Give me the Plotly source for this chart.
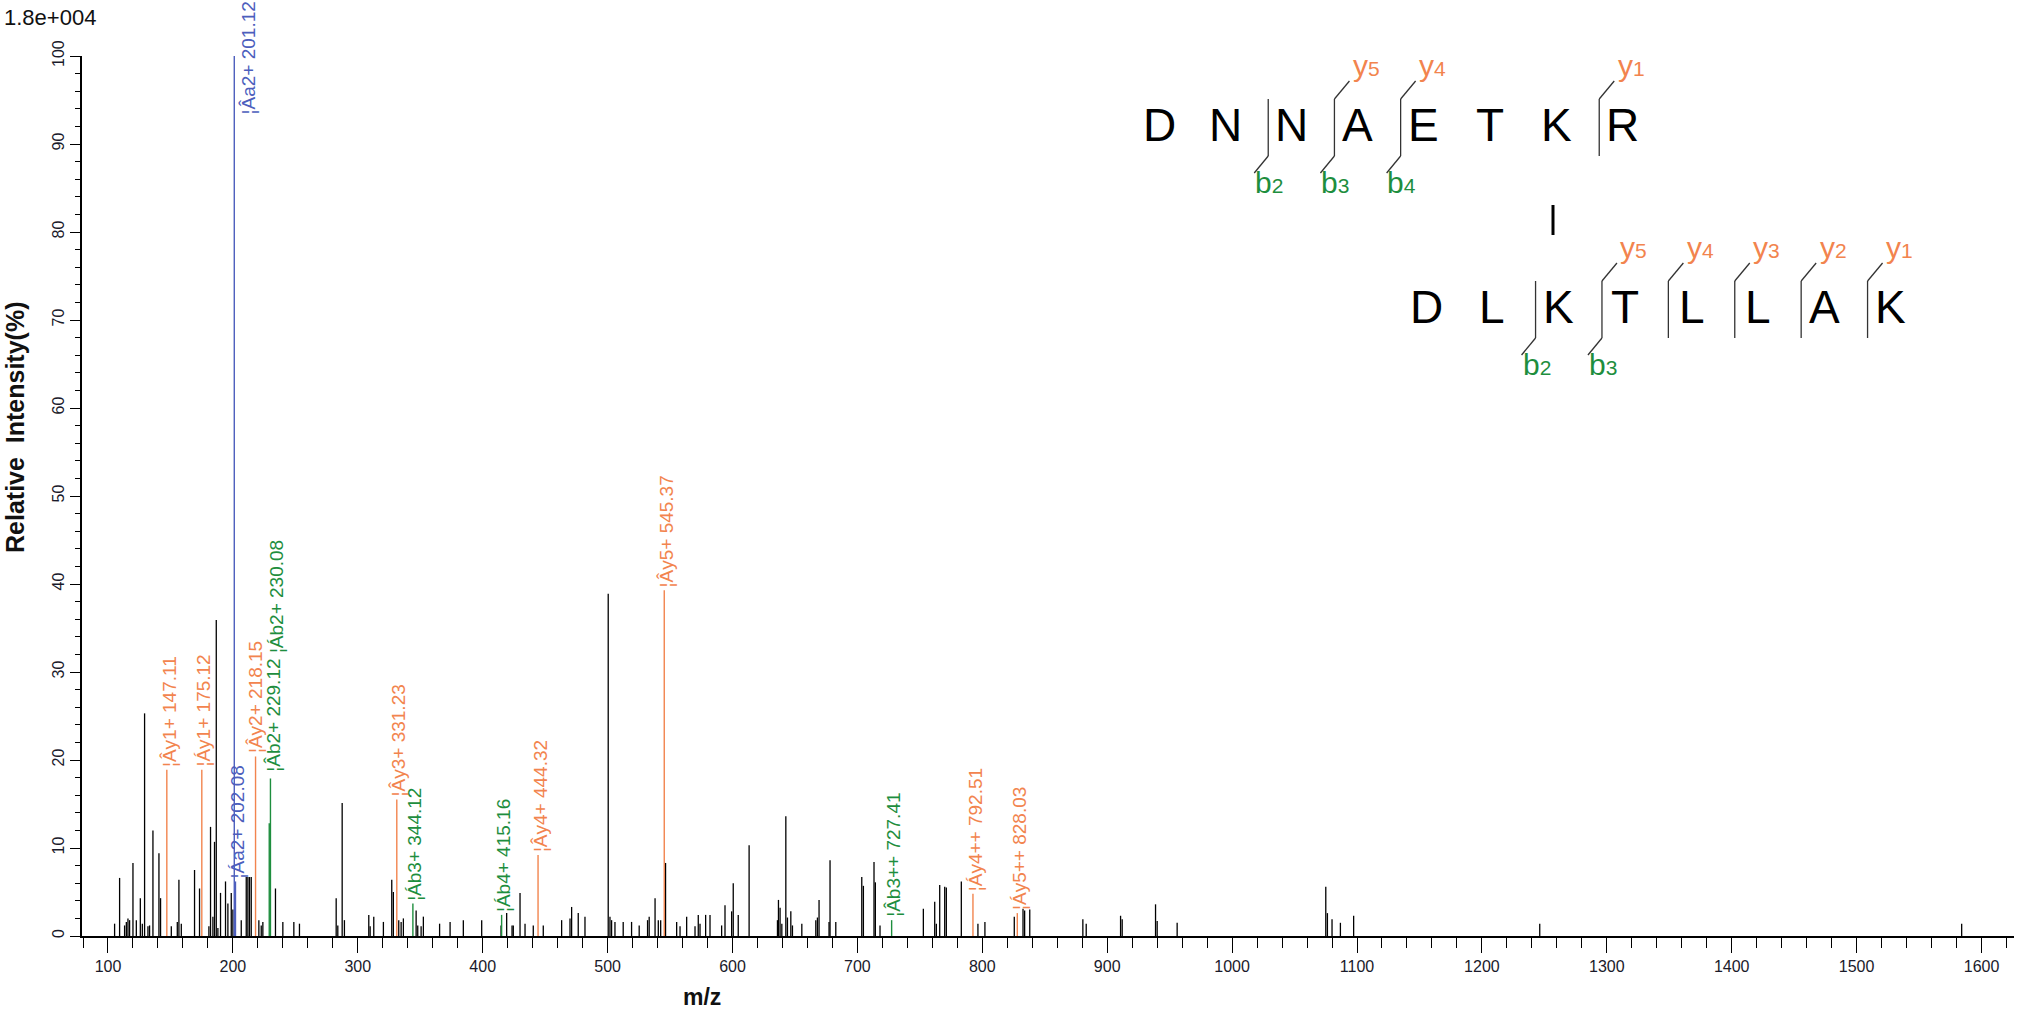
import plotly.graph_objects as go

# ---------------- spectrum data ----------------
# unassigned peaks (m/z, relative intensity %)
other_mz = [105.3, 109.3, 113.3, 114.7, 116.0, 117.3, 120.0, 122.7, 125.9, 127.5, 129.3, 132.0,
            133.3, 136.0, 140.8, 142.1, 150.7, 155.5, 156.8, 158.7, 169.3, 173.3, 180.8, 182.1,
            184.0, 185.3, 186.7, 188.0, 190.1, 194.1, 196.0, 198.7, 200.0, 206.7, 210.7, 212.0,
            213.3, 214.7, 220.8, 222.7, 224.0, 234.1, 240.0, 248.8, 253.3, 282.7, 284.0, 287.5,
            289.3, 308.8, 309.9, 312.8, 320.5, 327.2, 328.5, 332.8, 334.7, 336.5, 346.7, 348.0,
            350.7, 352.5, 365.5, 373.9, 384.5, 399.2, 414.7, 419.2, 423.5, 424.5, 429.9, 433.9,
            440.5, 448.5, 463.2, 469.9, 471.2, 476.5, 481.9, 500.5, 501.9, 503.2, 505.9, 512.5,
            519.2, 525.3, 532.0, 533.3, 538.0, 540.6, 542.5, 546.4, 555.3, 558.0, 563.3, 570.0,
            572.6, 574.0, 578.5, 582.0, 591.3, 594.0, 599.3, 600.6, 604.6, 613.3, 636.0, 636.8,
            638.1, 639.5, 642.7, 644.0, 646.7, 648.0, 655.5, 666.7, 668.0, 669.3, 677.3, 678.1,
            682.7, 703.5, 704.8, 713.3, 714.4, 718.1, 752.8, 761.9, 763.2, 765.9, 769.9, 771.2,
            783.2, 796.5, 802.1, 825.6, 832.6, 833.9, 838.0, 880.5, 883.2, 910.7, 912.0, 938.7,
            940.0, 956.0, 1075.0, 1076.3, 1080.0, 1086.7, 1097.3, 1246.3, 1584.1]
other_int = [1.4, 6.6, 1.2, 1.6, 2.0, 1.8, 8.3, 1.8, 4.3, 1.4, 25.3, 1.1,
             1.2, 12.0, 9.4, 4.3, 1.1, 1.6, 6.4, 1.4, 7.5, 5.4, 1.1, 12.4,
             2.2, 10.7, 35.9, 0.9, 4.9, 6.2, 3.7, 4.9, 3.0, 1.8, 6.7, 6.7,
             6.7, 6.7, 1.8, 1.2, 1.6, 5.4, 1.6, 1.6, 1.4, 4.3, 1.2, 15.1,
             1.8, 2.4, 1.1, 2.2, 1.6, 6.4, 5.0, 1.8, 1.6, 2.0, 2.9, 1.2,
             1.1, 2.2, 1.4, 1.6, 1.8, 1.8, 1.2, 2.6, 1.2, 1.2, 4.9, 1.4,
             1.2, 1.2, 1.8, 2.0, 3.3, 2.6, 2.2, 38.9, 2.2, 1.8, 1.6, 1.6,
             1.6, 1.2, 1.8, 2.2, 4.3, 1.8, 1.8, 8.3, 1.6, 1.1, 2.2, 1.1,
             2.4, 1.4, 2.4, 2.4, 1.2, 3.5, 2.8, 6.0, 2.4, 10.3, 1.8, 4.1,
             3.2, 1.4, 13.6, 2.1, 2.8, 1.2, 1.4, 1.8, 2.1, 4.1, 1.6, 8.6,
             1.6, 6.7, 5.7, 8.4, 6.1, 1.2, 3.1, 3.9, 1.4, 5.8, 5.6, 5.5,
             6.2, 1.4, 1.6, 2.2, 3.1, 2.9, 3.0, 1.9, 1.4, 2.3, 1.9, 3.6,
             1.7, 1.5, 5.6, 2.6, 1.9, 1.5, 2.3, 1.4, 1.4]

# assigned fragment ions
ion_mz = [147.11, 175.12, 201.12, 202.08, 218.15, 229.12, 230.08, 331.23,
          344.12, 415.16, 444.32, 545.37, 727.41, 792.51, 828.03]
ion_int = [18.9, 18.9, 100.0, 6.2, 20.4, 12.8, 17.9, 15.5,
           3.7, 2.4, 9.2, 39.3, 1.8, 4.8, 2.6]
ion_name = ["¦Ây1+", "¦Áy1+", "¦Âa2+", "¦Áa2+", "¦Ây2+", "¦Âb2+", "¦Áb2+", "¦Ây3+",
            "¦Áb3+", "¦Áb4+", "¦Ây4+", "¦Ây5+", "¦Âb3++", "¦Áy4++", "¦Áy5++"]
ion_series = ["y", "y", "a", "a", "y", "b", "b", "y",
              "b", "b", "y", "y", "b", "y", "y"]

# label start heights where labels are stacked above neighbours
label_base = {229.12: 18.3, 230.08: 31.8, 201.12: 93.0}
label_dx = {201.12: 14, 218.15: 0, 229.12: 4, 230.08: 6}

y_ticks = [0, 10, 20, 30, 40, 50, 60, 70, 80, 90, 100]
x_ticks = list(range(100, 1700, 100))

# cross-linked peptides
alpha_seq = "DNNAETKR"
alpha_b = {2: "2", 3: "3", 4: "4"}          # cleavage site -> b index
alpha_y = {3: "5", 4: "4", 7: "1"}          # cleavage site -> y index
beta_seq = "DLKTLLAK"
beta_b = {2: "2", 3: "3"}
beta_y = {3: "5", 4: "4", 5: "3", 6: "2", 7: "1"}

ORANGE = "#F2844E"
GREEN = "#1E8E3E"
BLUE = "#4C5EBD"
BLACK = "#000000"
series_color = {"y": ORANGE, "b": GREEN, "a": BLUE}
FONT = "Liberation Sans, Arial"

W, H = 2017, 1013
L, R, T, B = 82, 3, 56, 77
PW, PH = W - L - R, H - T - B


def px(xp):
    return (xp - L) / PW


def py(yp):
    return (H - B - yp) / PH


def sticks(xs, ys):
    sx, sy = [], []
    for x, y in zip(xs, ys):
        sx += [x, x, None]
        sy += [0, y, None]
    return sx, sy


fig = go.Figure()

ox, oy = sticks(other_mz, other_int)
fig.add_trace(go.Scatter(x=ox, y=oy, mode="lines", line=dict(color=BLACK, width=1.3),
                         hoverinfo="skip", showlegend=False))

for s in ["y", "b", "a"]:
    xs = [m for m, t in zip(ion_mz, ion_series) if t == s]
    ys = [v for v, t in zip(ion_int, ion_series) if t == s]
    sx, sy = sticks(xs, ys)
    fig.add_trace(go.Scatter(x=sx, y=sy, mode="lines", line=dict(color=series_color[s], width=1.4),
                             hoverinfo="skip", showlegend=False))

annotations = []
for m, v, name, s in zip(ion_mz, ion_int, ion_name, ion_series):
    annotations.append(dict(
        x=m, y=label_base.get(m, v), xref="x", yref="y",
        text=f"{name} {m:.2f}", textangle=-90, showarrow=False,
        xanchor="center", yanchor="bottom", xshift=label_dx.get(m, 2), yshift=1,
        font=dict(family=FONT, size=19, color=series_color[s]),
    ))

# scale label and axis titles
annotations.append(dict(x=px(2), y=py(18), xref="paper", yref="paper", text="1.8e+004",
                        showarrow=False, xanchor="left", yanchor="middle",
                        font=dict(family=FONT, size=22, color="#111")))
annotations.append(dict(x=px(15), y=py(428), xref="paper", yref="paper",
                        text="<b>Relative  Intensity(%)</b>", textangle=-90, showarrow=False,
                        xanchor="center", yanchor="middle",
                        font=dict(family=FONT, size=25, color="#111")))
annotations.append(dict(x=px(702), y=py(997), xref="paper", yref="paper", text="<b>m/z</b>",
                        showarrow=False, xanchor="center", yanchor="middle",
                        font=dict(family=FONT, size=23, color="#111")))

shapes = []


def draw_peptide(seq, b_sites, y_sites, x0, step, cy):
    for i, aa in enumerate(seq):
        annotations.append(dict(x=px(x0 + i * step), y=py(cy), xref="paper", yref="paper",
                                text=aa, showarrow=False, xanchor="center", yanchor="middle",
                                font=dict(family=FONT, size=46, color=BLACK)))
    for site in sorted(set(b_sites) | set(y_sites)):
        lx = x0 + site * step - 0.35 * step
        line = dict(type="line", xref="paper", yref="paper", line=dict(color="#333", width=1.3))
        shapes.append({**line, "x0": px(lx), "x1": px(lx), "y0": py(cy - 26), "y1": py(cy + 31)})
        if site in y_sites:
            shapes.append({**line, "x0": px(lx), "x1": px(lx + 15), "y0": py(cy - 26), "y1": py(cy - 44)})
            annotations.append(dict(
                x=px(lx + 32), y=py(cy - 59), xref="paper", yref="paper",
                text=f"y<span style='font-size:21px'>{y_sites[site]}</span>",
                showarrow=False, xanchor="center", yanchor="middle",
                font=dict(family=FONT, size=30, color=ORANGE)))
        if site in b_sites:
            shapes.append({**line, "x0": px(lx), "x1": px(lx - 14), "y0": py(cy + 31), "y1": py(cy + 48)})
            annotations.append(dict(
                x=px(lx + 1), y=py(cy + 57), xref="paper", yref="paper",
                text=f"b<span style='font-size:21px'>{b_sites[site]}</span>",
                showarrow=False, xanchor="center", yanchor="middle",
                font=dict(family=FONT, size=30, color=GREEN)))


draw_peptide(alpha_seq, alpha_b, alpha_y, 1159, 66.2, 125)
draw_peptide(beta_seq, beta_b, beta_y, 1426, 66.4, 307)

# cross-link between the two lysines
shapes.append(dict(type="line", xref="paper", yref="paper", x0=px(1553), x1=px(1553),
                   y0=py(205), y1=py(235), line=dict(color=BLACK, width=3)))

fig.update_layout(
    width=W, height=H, margin=dict(l=L, r=R, t=T, b=B),
    paper_bgcolor="white", plot_bgcolor="white",
    annotations=annotations, shapes=shapes,
    xaxis=dict(range=[79.2, 1626], tickmode="array", tickvals=x_ticks,
               ticktext=[str(v) for v in x_ticks],
               ticks="outside", ticklen=15, tickwidth=1.3, tickcolor=BLACK,
               minor=dict(dtick=20, tick0=0, ticks="outside", ticklen=10, tickwidth=1.3, tickcolor=BLACK),
               showline=True, linecolor=BLACK, linewidth=1.5, showgrid=False, zeroline=False,
               tickfont=dict(family=FONT, size=16, color="#1a1a2a")),
    yaxis=dict(range=[0, 100], tickmode="array", tickvals=y_ticks,
               ticktext=[str(v) for v in y_ticks], tickangle=-90,
               ticks="outside", ticklen=10, tickwidth=1.3, tickcolor=BLACK,
               minor=dict(dtick=2, tick0=0, ticks="outside", ticklen=5, tickwidth=1.3, tickcolor=BLACK),
               showline=True, linecolor=BLACK, linewidth=1.5, showgrid=False, zeroline=False,
               tickfont=dict(family=FONT, size=16, color="#1a1a2a")),
)

fig.write_html("out.html")
